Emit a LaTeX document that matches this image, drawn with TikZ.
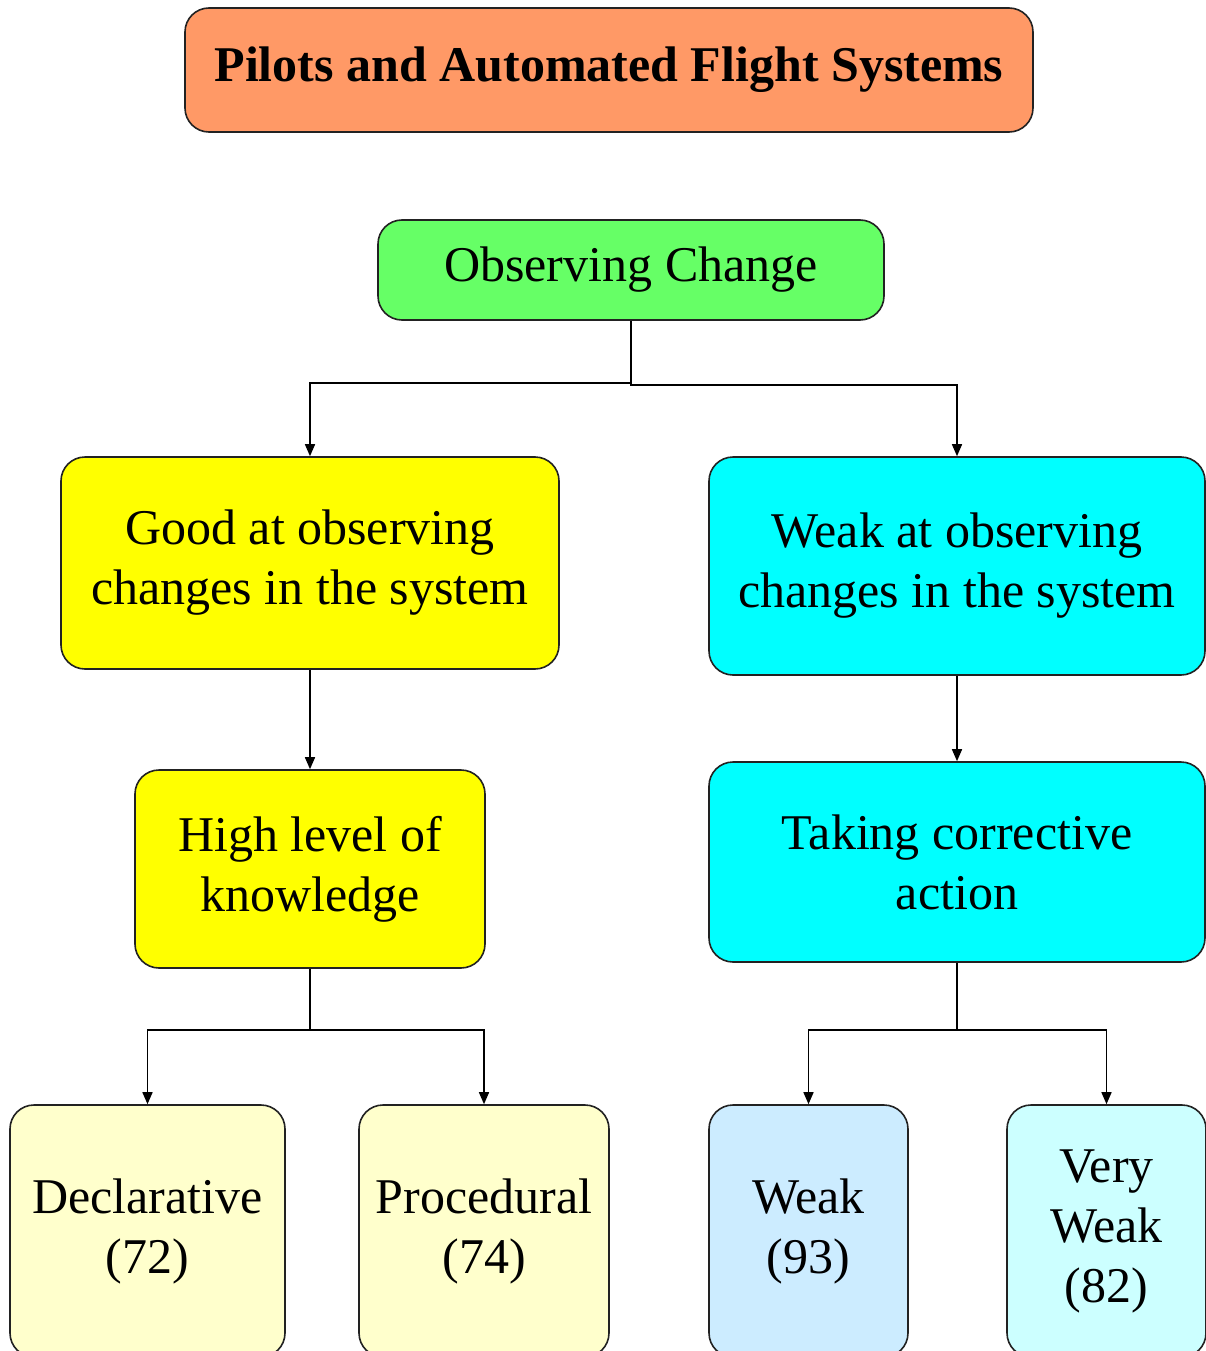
\documentclass[tikz,border=0pt]{standalone}
\usepackage{fontspec}
\setmainfont{Liberation Serif}
\usetikzlibrary{arrows.meta}
\definecolor{cTitle}{HTML}{FF9966}
\definecolor{cGreen}{HTML}{66FF66}
\definecolor{cYellow}{HTML}{FFFF00}
\definecolor{cCyan}{HTML}{00FFFF}
\definecolor{cLYellow}{HTML}{FFFFCC}
\definecolor{cLBlue}{HTML}{CCECFF}
\definecolor{cLCyan}{HTML}{CCFFFF}
\definecolor{cEdge}{HTML}{222222}
\begin{document}
\begin{tikzpicture}[x=1pt,y=-1pt,
  box/.style={draw=cEdge, line width=1.6pt, rounded corners=24pt, align=center,
    inner sep=0pt, font=\fontsize{50}{60}\selectfont, text=black},
  arr/.style={draw=black, line width=1.5pt, -{Triangle[length=12pt,width=10pt]}},
  ln/.style={draw=black, line width=1.5pt}]
\useasboundingbox (0,0) rectangle (1206,1351);
\fill[white] (0,0) rectangle (1206,1351);
\node[box, fill=cTitle, minimum width=848pt, minimum height=124pt, font=\bfseries\fontsize{50}{60}\selectfont] (title) at (609,70) {Pilots and Automated Flight Systems};
\node[box, fill=cGreen, minimum width=506pt, minimum height=100pt] (obs) at (631,270) {Observing Change};
\node[box, fill=cYellow, minimum width=498pt, minimum height=212pt] (good) at (310,563) {Good at observing\\changes in the system};
\node[box, fill=cCyan, minimum width=496pt, minimum height=218pt] (weakat) at (957,566) {Weak at observing\\changes in the system};
\node[box, fill=cYellow, minimum width=350pt, minimum height=198pt] (high) at (310,869) {High level of\\knowledge};
\node[box, fill=cCyan, minimum width=496pt, minimum height=200pt] (taking) at (957,862) {Taking corrective\\action};
\node[box, fill=cLYellow, minimum width=275pt, minimum height=252pt] (decl) at (147.5,1231) {Declarative\\(72)};
\node[box, fill=cLYellow, minimum width=250pt, minimum height=252pt] (proc) at (484,1231) {Procedural\\(74)};
\node[box, fill=cLBlue, minimum width=199pt, minimum height=252pt] (weak) at (808.5,1231) {Weak\\(93)};
\node[box, fill=cLCyan, minimum width=199pt, minimum height=252pt] (vweak) at (1106.5,1231) {Very\\Weak\\(82)};
% connectors
\draw[arr] (obs.south) -- (obs.south |- 0,383) -| (good.north);
\draw[arr] (obs.south) -- (obs.south |- 0,385) -| (weakat.north);
\draw[arr] (good.south) -- (high.north);
\draw[arr] (weakat.south) -- (taking.north);
\draw[arr] (high.south) -- (high.south |- 0,1030) -| (decl.north);
\draw[arr] (high.south) -- (high.south |- 0,1030) -| (proc.north);
\draw[arr] (taking.south) -- (taking.south |- 0,1030) -| (weak.north);
\draw[arr] (taking.south) -- (taking.south |- 0,1030) -| (vweak.north);
\end{tikzpicture}
\end{document}
